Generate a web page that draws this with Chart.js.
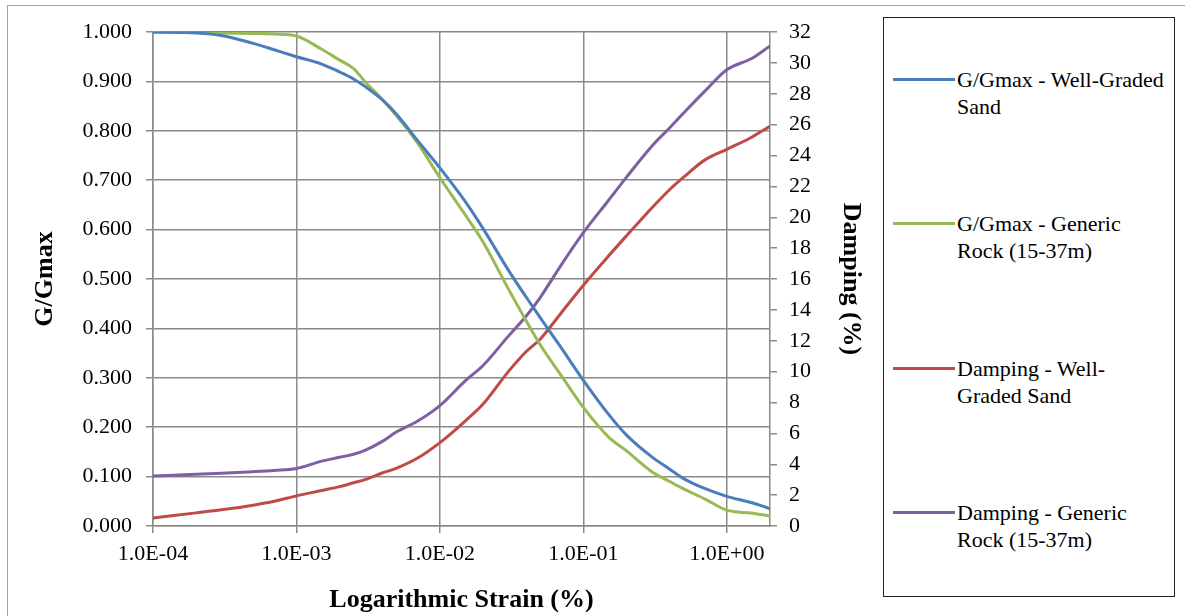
<!DOCTYPE html>
<html>
<head>
<meta charset="utf-8">
<script src="https://cdn.jsdelivr.net/npm/chart.js@4/dist/chart.umd.min.js"></script>
<style>
  body { margin: 0; background: #fff; font-family: "Liberation Serif", "Times New Roman", serif; }
  #frame { position: absolute; left: 7px; top: 5px; width: 1300px; height: 700px; border: 1px solid #a0a0a0; }
  #chart { position: absolute; left: 0; top: 0; }
  #legend { position: absolute; left: 883px; top: 17px; width: 292px; height: 580px; border: 1px solid #222; box-sizing: border-box; }
  .item { position: absolute; left: 9px; font-size: 22px; line-height: 27px; color: #000; }
  .item .swatch { position: absolute; left: 0; top: 12px; width: 62px; height: 3px; }
  .item .txt { margin-left: 64px; width: 211px; }
</style>
</head>
<body>
<div id="frame"></div>
<canvas id="chart" width="880" height="616"></canvas>
<div id="legend"></div>
<script>
// strain (%) sample points, log axis
const strain = [1e-4, 2e-4, 3e-4, 5e-4, 7e-4, 1e-3, 1.5e-3, 2e-3, 2.5e-3, 3e-3, 4e-3, 5e-3, 7e-3,
  1e-2, 1.5e-2, 2e-2, 3e-2, 4e-2, 5e-2, 7e-2, 0.1, 0.15, 0.2, 0.3, 0.4, 0.5, 0.7, 1, 1.5, 2];

const ggmaxSand = [1.000, 0.998, 0.993, 0.977, 0.964, 0.950, 0.935, 0.919, 0.905, 0.890, 0.862, 0.833, 0.780,
  0.725, 0.657, 0.602, 0.518, 0.463, 0.422, 0.361, 0.295, 0.226, 0.184, 0.140, 0.115, 0.096, 0.076, 0.060, 0.047, 0.035];

const ggmaxRock = [1.000, 0.999, 0.998, 0.997, 0.996, 0.992, 0.965, 0.943, 0.926, 0.900, 0.862, 0.830, 0.775,
  0.705, 0.630, 0.575, 0.480, 0.415, 0.367, 0.305, 0.240, 0.180, 0.152, 0.110, 0.090, 0.075, 0.055, 0.032, 0.026, 0.020];

const dampingSand = [0.52, 0.85, 1.05, 1.35, 1.60, 1.95, 2.30, 2.55, 2.80, 3.00, 3.45, 3.75, 4.40,
  5.40, 6.80, 7.90, 10.0, 11.3, 12.1, 13.8, 15.6, 17.5, 18.8, 20.6, 21.8, 22.6, 23.7, 24.4, 25.2, 25.9];

const dampingRock = [3.24, 3.35, 3.42, 3.52, 3.60, 3.72, 4.20, 4.45, 4.65, 4.90, 5.50, 6.10, 6.80,
  7.80, 9.40, 10.4, 12.3, 13.6, 14.8, 16.9, 19.0, 21.1, 22.6, 24.6, 25.8, 26.75, 28.15, 29.55, 30.3, 31.1];

const seriesNames = ['G/Gmax - Well-Graded Sand', 'G/Gmax - Generic Rock (15-37m)',
  'Damping - Well-Graded Sand', 'Damping - Generic Rock (15-37m)'];
const seriesColors = ['#4a7ebb', '#98b954', '#be4b48', '#7d60a0'];

const strainTicks = [1e-4, 1e-3, 1e-2, 1e-1, 1];
const strainLabels = ['1.0E-04', '1.0E-03', '1.0E-02', '1.0E-01', '1.0E+00'];

const toPoints = ys => ys.map((y, i) => ({ x: strain[i], y: y }));
const seriesData = [ggmaxSand, ggmaxRock, dampingSand, dampingRock];
const seriesAxis = ['yG', 'yG', 'yD', 'yD'];

const gridColor = '#8a8a8a';
const tickFont = { family: 'Liberation Serif', size: 22 };
const titleFont = { family: 'Liberation Serif', size: 26, weight: 'bold' };

const chart = new Chart(document.getElementById('chart').getContext('2d'), {
  type: 'line',
  data: {
    datasets: seriesData.map((ys, i) => ({
      label: seriesNames[i],
      data: toPoints(ys),
      yAxisID: seriesAxis[i],
      borderColor: seriesColors[i],
      backgroundColor: seriesColors[i],
      borderWidth: 3,
      pointRadius: 0,
      cubicInterpolationMode: 'monotone',
      fill: false
    }))
  },
  options: {
    responsive: false,
    animation: false,
    layout: { padding: { top: 32, left: 0, right: 0, bottom: 0 } },
    plugins: { legend: { display: false }, tooltip: { enabled: false } },
    scales: {
      x: {
        type: 'logarithmic',
        min: 1e-4,
        max: 2,
        afterBuildTicks: s => { s.ticks = strainTicks.map(v => ({ value: v })); },
        afterFit: s => { s.height = 90; },
        grid: { color: gridColor, lineWidth: 1.5, tickLength: 7 },
        border: { color: gridColor, width: 1.5 },
        ticks: {
          color: '#000', font: tickFont, padding: 8, maxRotation: 0, autoSkip: false,
          callback: (v, i) => strainLabels[i]
        },
        title: { display: true, text: 'Logarithmic Strain (%)', color: '#000', font: titleFont, padding: { bottom: 0 } }
      },
      yG: {
        position: 'left',
        min: 0,
        max: 1,
        afterFit: s => { s.width = 153; },
        grid: { color: gridColor, lineWidth: 1.5, tickLength: 7 },
        border: { color: gridColor, width: 1.5 },
        ticks: { stepSize: 0.1, color: '#000', font: tickFont, padding: 14, callback: v => v.toFixed(3) },
        title: { display: true, text: 'G/Gmax', color: '#000', font: titleFont, padding: { top: 30 } }
      },
      yD: {
        position: 'right',
        min: 0,
        max: 32,
        afterFit: s => { s.width = 110; },
        grid: { drawOnChartArea: false, color: gridColor, lineWidth: 1.5, tickLength: 7 },
        border: { color: gridColor, width: 1.5 },
        ticks: { stepSize: 2, color: '#000', font: tickFont, padding: 12 },
        title: { display: true, text: 'Damping (%)', color: '#000', font: titleFont, padding: { top: 14 } }
      }
    }
  }
});

// legend box built from the series names/colours
const legend = document.getElementById('legend');
const itemTops = [48, 192, 337, 481];
seriesNames.forEach((name, i) => {
  const it = document.createElement('div');
  it.className = 'item';
  it.style.top = itemTops[i] + 'px';
  it.innerHTML = '<div class="swatch" style="background:' + seriesColors[i] + '"></div><div class="txt"></div>';
  it.querySelector('.txt').textContent = name;
  legend.appendChild(it);
});
</script>
</body>
</html>
